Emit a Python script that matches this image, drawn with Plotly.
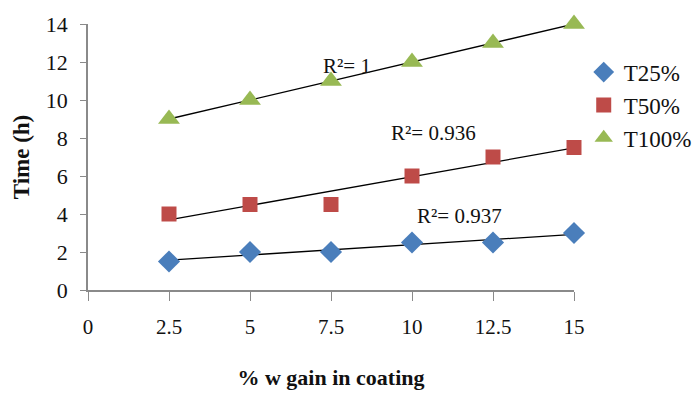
import numpy as np
import plotly.graph_objects as go

x_vals = [2.5, 5, 7.5, 10, 12.5, 15]
t25 = [1.5, 2.0, 2.0, 2.5, 2.5, 3.0]
t50 = [4.0, 4.5, 4.5, 6.0, 7.0, 7.5]
t100 = [9.0, 10.0, 11.0, 12.0, 13.0, 14.0]
series_names = ["T25%", "T50%", "T100%"]
r2_labels = ["R²= 0.937", "R²= 0.936", "R²= 1"]
r2_pos = [(11.48, 3.89), (10.65, 8.26), (7.99, 11.79)]
x_ticks = [0, 2.5, 5, 7.5, 10, 12.5, 15]
y_ticks = [0, 2, 4, 6, 8, 10, 12, 14]

colors = ["#4A7EBB", "#BE4B48", "#98B954"]
symbols = ["diamond", "square", "triangle-up"]
sizes = [17, 15, 19]
FONT = "Liberation Serif"

fig = go.Figure()
xa = np.array(x_vals)
for i, ys in enumerate([t25, t50, t100]):
    m, b = np.polyfit(xa, np.array(ys), 1)
    fig.add_trace(go.Scatter(x=[xa[0], xa[-1]], y=[m * xa[0] + b, m * xa[-1] + b],
                             mode="lines", line=dict(color="black", width=1.3),
                             showlegend=False, hoverinfo="skip", cliponaxis=False))
for i, ys in enumerate([t25, t50, t100]):
    fig.add_trace(go.Scatter(x=x_vals, y=ys, mode="markers", name=series_names[i],
                             legendgroup=series_names[i], cliponaxis=False,
                             marker=dict(color=colors[i], symbol=symbols[i], size=sizes[i],
                                         line=dict(width=0))))

for lab, (ax_, ay_) in zip(r2_labels, r2_pos):
    fig.add_annotation(x=ax_, y=ay_, text=lab, showarrow=False,
                       font=dict(family=FONT, size=21, color="#111"))

fig.update_layout(
    width=698, height=394,
    margin=dict(l=88, r=124, t=24, b=104, autoexpand=False),
    paper_bgcolor="white", plot_bgcolor="white",
    font=dict(family=FONT, size=21, color="#111"),
    legend=dict(x=1.02, y=0.9, xanchor="left", yanchor="top",
                font=dict(family=FONT, size=23, color="#111"),
                itemwidth=30, tracegroupgap=0, traceorder="grouped"),
    xaxis=dict(range=[0, 15], tickvals=x_ticks, ticktext=[str(v) for v in x_ticks],
               showgrid=False, zeroline=False, showline=True, linecolor="#8a8a8a",
               linewidth=1.5, ticks="outside", ticklen=9, tickcolor="#8a8a8a",
               ticklabelstandoff=8, tickfont=dict(family=FONT, size=21),
               title=dict(text="<b>% w gain in coating</b>", font=dict(family=FONT, size=22),
                          standoff=32)),
    yaxis=dict(range=[0, 14], tickvals=y_ticks, showgrid=False, zeroline=False,
               showline=True, linecolor="#8a8a8a", linewidth=1.5, ticks="outside",
               ticklen=6, tickcolor="#8a8a8a", ticklabelstandoff=8,
               tickfont=dict(family=FONT, size=22),
               title=dict(text="<b>Time (h)</b>", font=dict(family=FONT, size=23),
                          standoff=10)),
)
fig.write_html("out.html")
